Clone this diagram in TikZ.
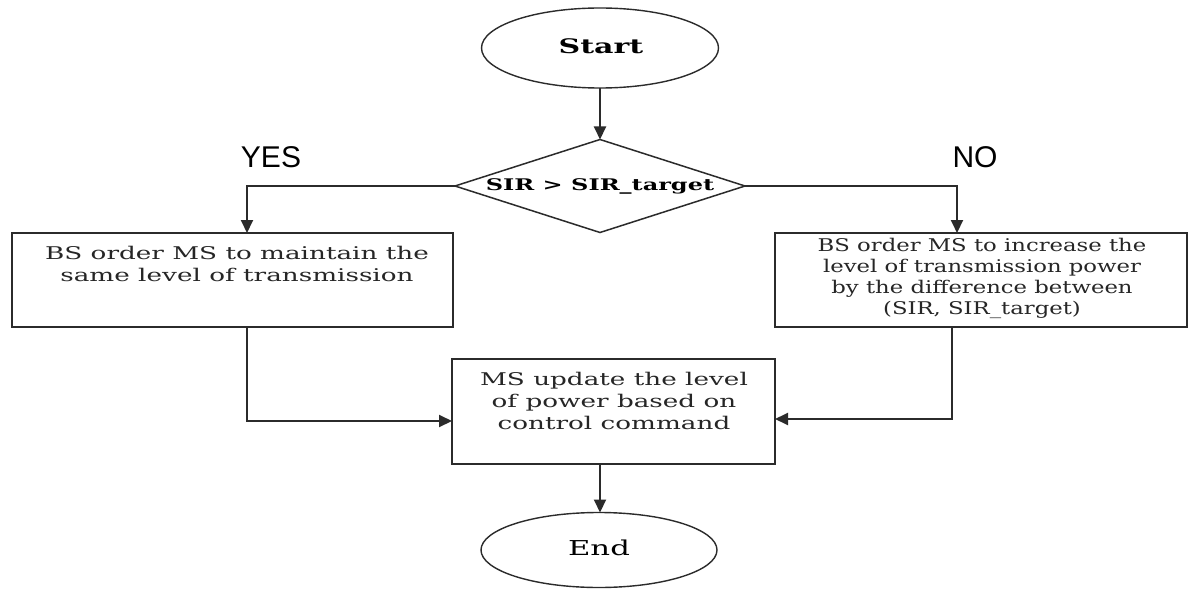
\documentclass[tikz,border=0pt]{standalone}
\usepackage{fontspec}
\usetikzlibrary{shapes.geometric,arrows.meta}
\newfontfamily\boxfont[FakeStretch=1.5]{DejaVu Serif}
\newfontfamily\narrowfont[FakeStretch=1.3]{DejaVu Serif}
\newfontfamily\labfont{Liberation Sans}
\definecolor{ln}{HTML}{2b2b2b}
\begin{document}
\begin{tikzpicture}[x=1pt,y=-1pt,
  every node/.style={inner sep=0pt, outer sep=0pt},
  base/.style={draw=ln, line width=2pt, fill=white},
  term/.style={base, ellipse, line width=1.4pt},
  procbox/.style={base, rectangle},
  decide/.style={base, diamond, line width=1.5pt},
  txt/.style={align=center, font=\boxfont\fontsize{17.5}{22}\selectfont, text=black!85},
  ntxt/.style={align=center, font=\narrowfont\fontsize{17.5}{21}\selectfont, text=black!85},
  lab/.style={font=\labfont\fontsize{30}{30}\selectfont},
  arr/.style={draw=ln, line width=2pt, -{Triangle[length=13pt,width=12pt]}}]
\useasboundingbox (0,0) rectangle (1193,591);
\fill[white] (0,0) rectangle (1193,591);

\node[term, minimum width=237pt, minimum height=80pt] (start) at (600,48) {};
\node[font=\boxfont\bfseries\fontsize{20}{24}\selectfont] (startt) at (601,46) {Start};

\node[decide, minimum width=290pt, minimum height=93pt] (dec) at (600,186) {};
\node[font=\boxfont\bfseries\fontsize{16}{20}\selectfont] (dect) at (600,186) {SIR > SIR\_target};

\node[procbox, minimum width=441pt, minimum height=94pt] (lb) at (232.5,280) {};
\node[txt] (lbt) at (237,264) {BS order MS to maintain the\\same level of transmission};

\node[procbox, minimum width=412pt, minimum height=94pt] (rb) at (981,280) {};
\node[ntxt] (rbt) at (982,278.5) {BS order MS to increase the\\level of transmission power\\by the difference between\\(SIR, SIR\_target)};

\node[procbox, minimum width=323pt, minimum height=105pt] (mid) at (613.5,411.5) {};
\node[txt] (midt) at (614,400.5) {MS update the level\\of power based on\\control command};

\node[term, minimum width=236pt, minimum height=75pt] (end) at (599,550) {};
\node[font=\boxfont\fontsize{20.5}{24}\selectfont] (endt) at (599,548) {End};

\node[lab] (yes) at (271,157) {YES};
\node[lab] (no) at (975,157) {NO};

\draw[arr] (start.south) -- (dec.north);
\draw[arr] (dec.west) -| ([xshift=14.5pt]lb.north);
\draw[arr] (dec.east) -| ([xshift=-24pt]rb.north);
\draw[arr] ([xshift=14.5pt]lb.south) |- ([yshift=-9.5pt]mid.west);
\draw[arr] ([xshift=-29pt]rb.south) |- ([yshift=-7.5pt]mid.east);
\draw[arr] ([xshift=-13.5pt]mid.south) -- ([xshift=1pt]end.north);
\end{tikzpicture}
\end{document}
